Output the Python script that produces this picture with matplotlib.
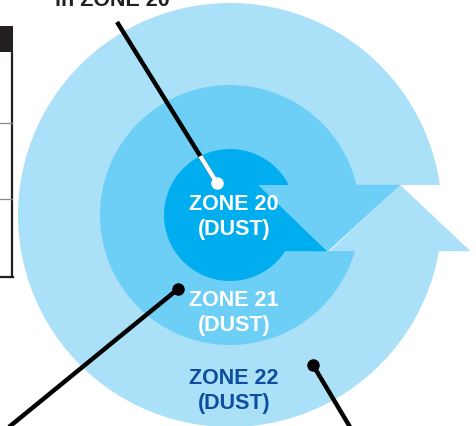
import numpy as np
import matplotlib
matplotlib.use("Agg")
import matplotlib.pyplot as plt
from matplotlib.patches import Polygon, Rectangle

plt.rcParams['font.family'] = ['Liberation Sans', 'DejaVu Sans']

# 区域数据（像素坐标，y向下）
zone_names = ['ZONE 22', 'ZONE 21', 'ZONE 20']
zone_radii = [212, 130, 66]
zone_colors = ['#ABE0F9', '#6DCFF6', '#00AEEF']
zone_label_y = [378, 301, 205]
zone_text_colors = ['#0D4E9E', 'white', 'white']
center = (230, 215)
band_top, band_bot = 185, 251

# 箭头（三角形）
arrow_light = [(400, band_top), (330, band_bot), (470, band_bot)]
arrow_mid = [(258, band_top), (400, band_top), (328, band_bot)]
arrow_dark = [(258, band_top), (189, band_bot), (327, band_bot)]
arrows = [arrow_light, arrow_mid, arrow_dark]
cut_x = [center[0], center[0], 258]

# 指示线
pointer_lines = [((117, 22), (217, 183)), ((178, 289), (9, 427)), ((313, 365), (350, 427))]


def notched_disk(r, xcut):
    cx, cy = center
    a1 = np.arctan2(band_top - cy, np.sqrt(r**2 - (band_top - cy)**2))
    a2 = np.arctan2(band_bot - cy, np.sqrt(r**2 - (band_bot - cy)**2))
    t = np.linspace(a1, a2 - 2 * np.pi, 400)
    pts = list(zip(cx + r * np.cos(t), cy + r * np.sin(t)))
    pts += [(xcut, band_bot), (xcut, band_top)]
    return pts


fig = plt.figure(figsize=(4.76, 4.26), dpi=100)
ax = fig.add_axes([0, 0, 1, 1])
ax.set_xlim(0, 476)
ax.set_ylim(426, 0)
ax.axis('off')

patches = []
for r, col, tri, xc in zip(zone_radii, zone_colors, arrows, cut_x):
    p = Polygon(notched_disk(r, xc), closed=True, facecolor=col, edgecolor='none')
    ax.add_patch(p)
    ax.add_patch(Polygon(tri, closed=True, facecolor=col, edgecolor=col, lw=0.3))
    patches.append(p)

for name, y, tc in zip(zone_names, zone_label_y, zone_text_colors):
    ax.text(234, y, name, color=tc, fontsize=15.5, fontweight='bold', ha='center', va='center')
    ax.text(234, y + 25, '(DUST)', color=tc, fontsize=15.5, fontweight='bold', ha='center', va='center')

# 指示线
(x0, y0), (x1, y1) = pointer_lines[0]
ax.plot([x0, x1], [y0, y1], color='black', lw=3.2, solid_capstyle='butt')
wl, = ax.plot([x0, x1], [y0, y1], color='white', lw=3.2, solid_capstyle='butt')
wl.set_clip_path(patches[2])
ax.plot(x1, y1, 'o', color='white', ms=8)
for (xa, ya), (xb, yb) in pointer_lines[1:]:
    ax.plot([xa, xb], [ya, yb], color='black', lw=3.2, solid_capstyle='butt')
    ax.plot(xa, ya, 'o', color='black', ms=8)

# 顶部文字（原图中被裁切）
ax.text(112, 6, 'in ZONE 20', color='#231F20', fontsize=15.5, fontweight='bold',
        ha='center', va='baseline')

# 左侧表格边缘
ax.add_patch(Rectangle((-2, 26), 15, 26, facecolor='#231F20', edgecolor='none'))
ax.plot([12, 12], [52, 277], color='#231F20', lw=1.6)
ax.plot([0, 13], [277, 277], color='#231F20', lw=1.6)
for yy in [123, 199]:
    ax.plot([0, 12], [yy, yy], color='#8A8A8A', lw=0.9)

fig.savefig('out.png', dpi=100)
